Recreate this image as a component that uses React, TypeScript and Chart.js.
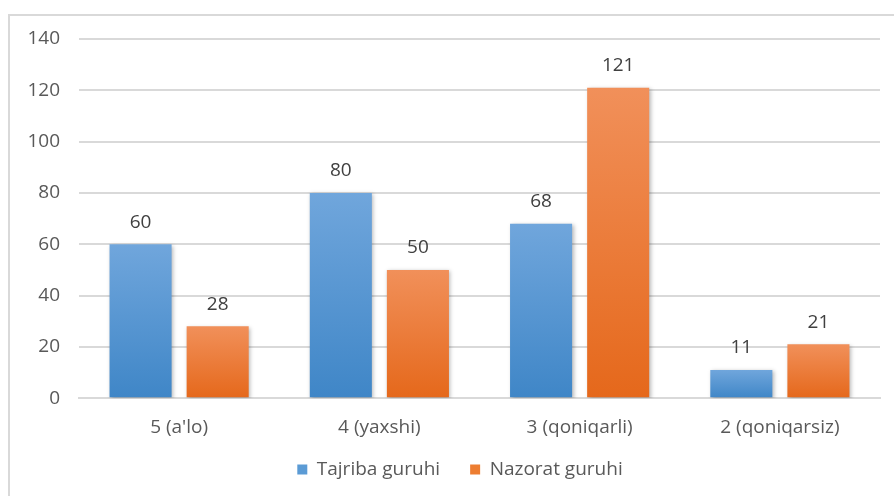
import React, { useEffect, useRef } from "react";
import { Chart, registerables } from "chart.js";

Chart.register(...registerables);

const categories = ["5 (a'lo)", "4 (yaxshi)", "3 (qoniqarli)", "2 (qoniqarsiz)"];
const tajriba = [60, 80, 68, 11];
const nazorat = [28, 50, 121, 21];
const seriesNames = ["Tajriba guruhi", "Nazorat guruhi"];
const yTicks = [0, 20, 40, 60, 80, 100, 120, 140];

const FONT = "'Open Sans', sans-serif";
const FS = 19;
const LEGEND_TRIM = 20;
const LEGEND_SHIFT = 19;
const LEGEND_DX = 15;

function gradientFor(top: string, bottom: string, legendColor: string) {
  return (ctx: any) => {
    const chart = ctx.chart;
    const y = chart.scales?.y;
    if (!y || ctx.type !== "data") return legendColor;
    const v = ctx.raw as number;
    const yTop = y.getPixelForValue(v);
    const yBot = y.getPixelForValue(0);
    if (!isFinite(yTop) || !isFinite(yBot) || yTop === yBot) return legendColor;
    const g = chart.ctx.createLinearGradient(0, yTop, 0, yBot);
    g.addColorStop(0, top);
    g.addColorStop(1, bottom);
    return g;
  };
}

const borderPlugin = {
  id: "outerBorder",
  beforeDraw(chart: any) {
    const c = chart.ctx;
    c.save();
    c.fillStyle = "#ffffff";
    c.fillRect(0, 0, chart.width, chart.height);
    c.strokeStyle = "#d9d9d9";
    c.lineWidth = 2;
    c.strokeRect(9, 15, chart.width + 20, chart.height + 20);
    c.restore();
  },
};

const legendFitPlugin = {
  id: "legendFit",
  beforeLayout(chart: any) {
    const lg = chart.legend;
    if (lg && !lg.__patched) {
      const origFit = lg.fit.bind(lg);
      const origDraw = lg.draw.bind(lg);
      lg.fit = function () {
        origFit();
        this.height -= LEGEND_TRIM;
      };
      lg.draw = function () {
        this.top -= LEGEND_SHIFT;
        this.left += LEGEND_DX;
        this.right += LEGEND_DX;
        origDraw();
        this.top += LEGEND_SHIFT;
        this.left -= LEGEND_DX;
        this.right -= LEGEND_DX;
      };
      lg.__patched = true;
    }
  },
};

const shadowPlugin = {
  id: "barShadow",
  beforeDatasetsDraw(chart: any) {
    const c = chart.ctx;
    c.save();
    c.shadowColor = "rgba(0,0,0,0.28)";
    c.shadowBlur = 4;
    c.shadowOffsetX = 1.5;
    c.shadowOffsetY = 1.5;
  },
  afterDatasetsDraw(chart: any) {
    chart.ctx.restore();
  },
};

const labelPlugin = {
  id: "valueLabels",
  afterDatasetsDraw(chart: any) {
    const c = chart.ctx;
    c.save();
    c.font = `${FS}px ${FONT}`;
    c.fillStyle = "#404040";
    c.textAlign = "center";
    c.textBaseline = "middle";
    chart.data.datasets.forEach((ds: any, i: number) => {
      const meta = chart.getDatasetMeta(i);
      meta.data.forEach((bar: any, j: number) => {
        c.fillText(String(ds.data[j]), bar.x, bar.y - 22);
      });
    });
    c.restore();
  },
};

export default function App() {
  const ref = useRef<HTMLCanvasElement | null>(null);
  useEffect(() => {
    document.body.style.margin = "0";
    document.body.style.overflow = "hidden";
    const chart = new Chart(ref.current as HTMLCanvasElement, {
      type: "bar",
      data: {
        labels: categories,
        datasets: [
          {
            label: seriesNames[0],
            data: tajriba,
            backgroundColor: gradientFor("#70a6dc", "#3f86c7", "#5b9bd5"),
            borderWidth: 0,
            categoryPercentage: 0.77,
            barPercentage: 0.805,
          },
          {
            label: seriesNames[1],
            data: nazorat,
            backgroundColor: gradientFor("#f1905a", "#e5681b", "#ed7d31"),
            borderWidth: 0,
            categoryPercentage: 0.77,
            barPercentage: 0.805,
          },
        ],
      },
      options: {
        animation: false,
        responsive: false,
        maintainAspectRatio: false,
        layout: { padding: { left: 10, right: 14, top: 39, bottom: 8 } },
        plugins: {
          tooltip: { enabled: false },
          legend: {
            position: "bottom",
            labels: {
              font: { family: FONT, size: FS },
              color: "#595959",
              boxWidth: 10,
              boxHeight: 10,
              padding: 30,
              generateLabels: () =>
                seriesNames.map((n, i) => ({
                  text: n,
                  fillStyle: i === 0 ? "#5b9bd5" : "#ed7d31",
                  strokeStyle: "transparent",
                  lineWidth: 0,
                  hidden: false,
                  datasetIndex: i,
                  fontColor: "#595959",
                })),
            },
          },
        },
        scales: {
          x: {
            grid: { display: false },
            border: { display: true, color: "#d9d9d9", width: 2 },
            ticks: {
              font: { family: FONT, size: FS },
              color: "#595959",
              padding: 10,
            },
          },
          y: {
            min: 0,
            max: 140,
            afterBuildTicks: (s: any) => {
              s.ticks = yTicks.map((v) => ({ value: v }));
            },
            afterFit: (s: any) => {
              s.width = 69;
            },
            grid: { color: "#d9d9d9", lineWidth: 2, drawTicks: false },
            border: { display: false },
            ticks: {
              font: { family: FONT, size: FS },
              color: "#595959",
              padding: 19,
            },
          },
        },
      },
      plugins: [borderPlugin, legendFitPlugin, shadowPlugin, labelPlugin],
    } as any);
    return () => chart.destroy();
  }, []);
  return <canvas ref={ref} width={894} height={496} style={{ display: "block" }} />;
}
